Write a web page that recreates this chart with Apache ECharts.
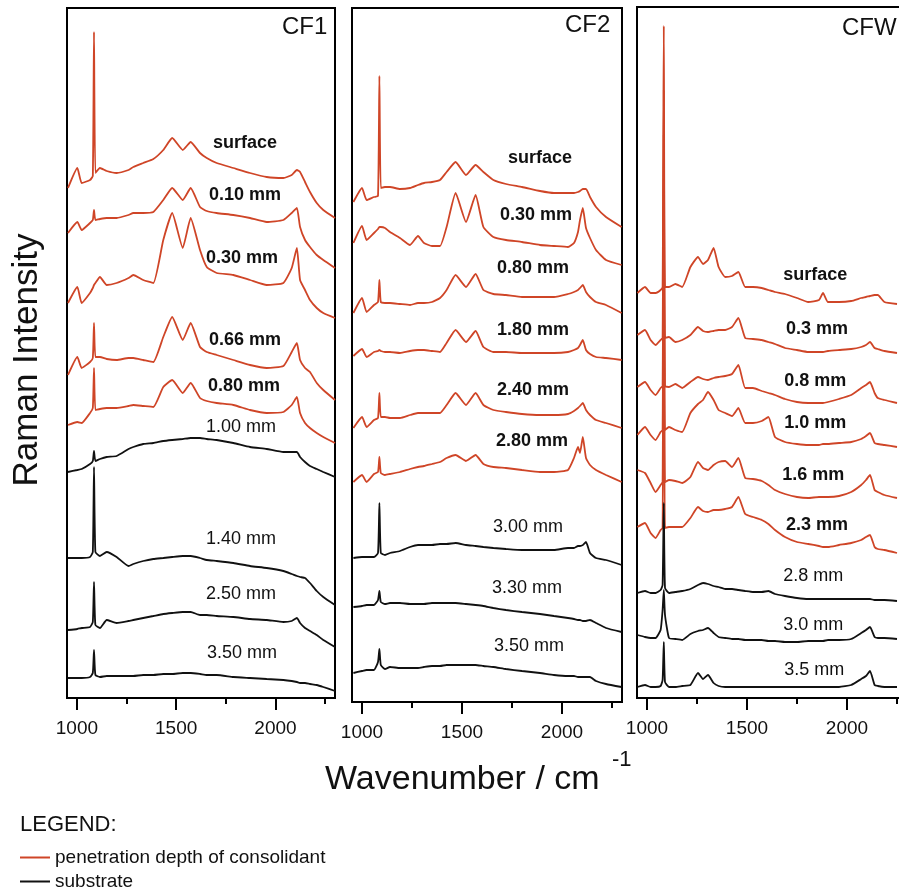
<!DOCTYPE html>
<html lang="en">
<head>
    <meta charset="UTF-8">
    <title>Raman depth profiles</title>
    <script src="https://cdn.jsdelivr.net/npm/echarts@6/dist/echarts.min.js"></script>
    <style>
        html, body { margin: 0; padding: 0; background: #fff; }
    </style>
</head>
<body>
    <div id="main" style="width: 899px;height:894px;"></div>
    <script type="text/javascript">
        // wavenumber grids (cm-1), one per panel
        var wnCF1 = [955, 1002, 1024, 1066, 1080, 1086, 1093, 1116, 1150, 1200, 1260, 1284, 1334, 1385, 1435, 1480, 1533, 1573, 1620, 1654, 1704, 1788, 1872, 1956, 2040, 2082, 2108, 2124, 2149, 2174, 2208, 2241, 2300];
        var wnCF2 = [957, 1000, 1023, 1060, 1080, 1087, 1094, 1115, 1140, 1190, 1240, 1280, 1310, 1350, 1390, 1423, 1468, 1520, 1568, 1607, 1657, 1720, 1800, 1890, 1960, 2030, 2060, 2080, 2090, 2104, 2120, 2140, 2170, 2220, 2298];
        var wnCFW = [952, 990, 1018, 1043, 1068, 1078, 1084, 1090, 1110, 1142, 1176, 1217, 1255, 1280, 1305, 1333, 1358, 1391, 1425, 1457, 1491, 1530, 1574, 1607, 1640, 1690, 1750, 1806, 1860, 1880, 1905, 1960, 2021, 2071, 2095, 2115, 2138, 2154, 2187, 2250];

        // CF1 spectra (stacked intensity, a.u.)
        var cf1Surface = [510, 530, 515, 518, 522, 666, 525, 530, 527, 525, 528, 531, 535, 539, 548, 560, 548, 556, 545, 540, 535, 530, 525, 521, 520, 523, 528, 526, 516, 506, 495, 488, 480];
        var cf1D010 = [465, 476, 468, 475, 478, 488, 478, 479, 480, 480, 483, 485, 485, 486, 498, 510, 498, 510, 491, 487, 485, 483, 480, 476, 478, 485, 490, 471, 458, 451, 443, 438, 430];
        var cf1D030 = [395, 411, 395, 405, 410, 413, 415, 421, 413, 415, 420, 423, 418, 415, 458, 485, 450, 480, 448, 431, 425, 423, 418, 413, 415, 430, 450, 418, 408, 398, 390, 385, 380];
        var cf1D066 = [323, 341, 330, 336, 340, 375, 341, 341, 339, 338, 340, 340, 338, 336, 361, 381, 358, 375, 351, 346, 343, 338, 333, 330, 332, 346, 355, 338, 330, 326, 315, 308, 298];
        var cf1D080 = [273, 276, 275, 285, 290, 330, 288, 289, 290, 290, 292, 293, 292, 291, 311, 318, 305, 315, 300, 297, 295, 293, 288, 285, 286, 293, 301, 285, 275, 270, 265, 261, 255];
        var cf1D100 = [226, 228, 229, 234, 237, 247, 237, 239, 241, 242, 249, 251, 254, 255, 257, 258, 259, 260, 260, 259, 258, 255, 251, 249, 246, 246, 246, 241, 236, 232, 229, 226, 221];
        var cf1D140 = [140, 140, 140, 141, 146, 231, 146, 142, 146, 141, 132, 134, 137, 139, 140, 141, 142, 142, 140, 138, 137, 135, 132, 130, 127, 124, 122, 121, 120, 115, 107, 101, 93];
        var cf1D250 = [68, 69, 70, 71, 76, 116, 73, 70, 78, 75, 77, 78, 80, 82, 84, 85, 86, 86, 83, 83, 82, 81, 79, 78, 76, 77, 80, 75, 70, 67, 63, 58, 51];
        var cf1D350 = [20, 20, 20, 21, 25, 48, 23, 21, 22, 22, 22, 22, 23, 23, 24, 24, 25, 25, 24, 23, 23, 21, 20, 19, 18, 17, 16, 15, 15, 14, 13, 11, 7];

        // CF2 spectra
        var cf2Surface = [500, 514, 502, 505, 506, 626, 514, 515, 515, 513, 514, 517, 519, 520, 522, 530, 540, 527, 537, 530, 522, 518, 515, 511, 509, 509, 509, 510, 511, 513, 513, 505, 495, 485, 475];
        var cf2D030 = [459, 476, 462, 469, 473, 475, 475, 474, 470, 464, 457, 466, 459, 456, 456, 475, 509, 480, 507, 475, 465, 462, 460, 457, 456, 455, 459, 470, 482, 494, 474, 464, 452, 442, 437];
        var cf2D080 = [389, 404, 390, 397, 400, 422, 400, 399, 399, 398, 397, 399, 399, 400, 404, 412, 427, 415, 428, 412, 408, 407, 405, 405, 405, 408, 410, 412, 414, 417, 410, 405, 400, 397, 389];
        var cf2D180 = [346, 353, 345, 350, 351, 352, 351, 350, 350, 349, 351, 352, 352, 351, 350, 359, 372, 360, 371, 355, 350, 350, 349, 349, 349, 350, 352, 354, 357, 362, 352, 348, 345, 344, 342];
        var cf2D240 = [274, 285, 275, 282, 284, 309, 285, 285, 284, 284, 287, 289, 289, 289, 289, 297, 309, 297, 309, 297, 292, 290, 288, 287, 287, 288, 291, 294, 296, 299, 292, 287, 282, 279, 274];
        var cf2D280 = [220, 227, 220, 228, 230, 245, 229, 227, 228, 230, 233, 235, 236, 238, 240, 244, 247, 241, 247, 238, 235, 234, 232, 230, 230, 232, 244, 255, 249, 265, 244, 237, 232, 227, 220];
        var cf2D300 = [144, 145, 145, 145, 149, 199, 149, 147, 149, 151, 155, 157, 157, 157, 158, 158, 159, 157, 156, 155, 154, 153, 152, 152, 152, 154, 154, 156, 156, 157, 160, 149, 144, 142, 137];
        var cf2D330 = [95, 96, 97, 97, 102, 111, 100, 98, 99, 99, 98, 98, 98, 99, 99, 99, 99, 98, 97, 96, 94, 92, 90, 88, 86, 84, 83, 82, 82, 81, 81, 82, 79, 74, 70];
        var cf2D350 = [29, 31, 32, 32, 40, 53, 37, 33, 35, 34, 34, 34, 35, 36, 36, 37, 37, 37, 37, 36, 35, 33, 31, 29, 27, 26, 26, 25, 25, 25, 25, 25, 21, 18, 15];

        // CFW spectra
        var cfwSurface = [405, 411, 405, 405, 408, 411, 672, 411, 411, 414, 411, 431, 441, 434, 438, 450, 431, 421, 422, 426, 411, 411, 410, 408, 406, 404, 400, 396, 398, 405, 396, 396, 397, 400, 401, 402, 403, 403, 396, 394];
        var cfwD03 = [363, 368, 358, 353, 358, 360, 608, 360, 361, 356, 358, 363, 371, 367, 366, 367, 368, 368, 371, 380, 360, 359, 358, 356, 354, 350, 348, 346, 346, 346, 347, 348, 349, 351, 353, 356, 350, 349, 347, 345];
        var cfwD08 = [311, 316, 308, 303, 310, 312, 563, 312, 311, 314, 310, 316, 321, 319, 318, 320, 321, 322, 324, 333, 310, 310, 307, 305, 303, 299, 296, 295, 295, 295, 296, 299, 303, 310, 313, 316, 305, 300, 298, 295];
        var cfwD10 = [263, 271, 263, 258, 266, 268, 518, 268, 271, 268, 266, 285, 294, 298, 306, 298, 288, 285, 282, 290, 275, 275, 277, 281, 261, 256, 254, 253, 253, 254, 254, 255, 256, 259, 262, 265, 255, 254, 253, 251];
        var cfwD16 = [228, 225, 215, 206, 213, 216, 468, 216, 218, 217, 215, 221, 236, 230, 228, 233, 236, 237, 231, 240, 220, 219, 217, 213, 208, 204, 201, 200, 201, 201, 201, 202, 206, 213, 218, 223, 208, 206, 203, 200];
        var cfwD23 = [171, 175, 165, 160, 168, 170, 418, 170, 171, 171, 171, 180, 191, 187, 186, 188, 188, 189, 191, 201, 184, 181, 178, 174, 168, 161, 156, 154, 152, 151, 151, 153, 155, 158, 161, 163, 151, 149, 148, 145];
        var cfwD28 = [105, 107, 105, 105, 108, 113, 195, 110, 105, 106, 107, 109, 113, 115, 114, 112, 111, 109, 109, 108, 107, 106, 106, 107, 104, 102, 100, 99, 99, 99, 99, 99, 99, 99, 99, 99, 98, 98, 98, 97];
        var cfwD30 = [63, 61, 60, 60, 68, 88, 108, 83, 60, 59, 58, 64, 67, 68, 70, 65, 61, 60, 59, 59, 58, 58, 58, 57, 57, 56, 56, 57, 57, 57, 58, 58, 59, 65, 68, 71, 61, 60, 60, 59];
        var cfwD35 = [11, 13, 11, 11, 12, 18, 56, 16, 11, 11, 12, 13, 25, 19, 23, 15, 12, 11, 11, 11, 11, 11, 11, 11, 11, 11, 11, 11, 11, 11, 11, 11, 13, 19, 22, 27, 13, 12, 11, 11];

        var majorTicks = [1000, 1500, 2000];
        var minorTicks = [1250, 1750, 2250];
        var panelNames = ['CF1', 'CF2', 'CFW'];
        var consolidant = 'penetration depth of consolidant';
        var substrate = 'substrate';

        // spectrum text: [label, wavenumber, intensity, bold]
        var labelsCF1 = [['surface', 1847, 555, 1], ['0.10 mm', 1847, 503, 1], ['0.30 mm', 1832, 440, 1], ['0.66 mm', 1847, 358, 1], ['0.80 mm', 1842, 312, 1],
            ['1.00 mm', 1827, 271, 0], ['1.40 mm', 1827, 159, 0], ['2.50 mm', 1827, 104, 0], ['3.50 mm', 1832, 45, 0]];
        var labelsCF2 = [['surface', 1890, 544, 1], ['0.30 mm', 1870, 487, 1], ['0.80 mm', 1855, 434, 1], ['1.80 mm', 1855, 372, 1], ['2.40 mm', 1855, 312, 1],
            ['2.80 mm', 1850, 261, 1], ['3.00 mm', 1830, 175, 0], ['3.30 mm', 1825, 114, 0], ['3.50 mm', 1835, 56, 0]];
        var labelsCFW = [['surface', 1841, 423, 1], ['0.3 mm', 1850, 369, 1], ['0.8 mm', 1841, 317, 1], ['1.0 mm', 1841, 275, 1], ['1.6 mm', 1831, 223, 1],
            ['2.3 mm', 1850, 173, 1], ['2.8 mm', 1831, 122, 0], ['3.0 mm', 1831, 73, 0], ['3.5 mm', 1836, 28, 0]];

        var FONT = '"Liberation Sans", Arial, Helvetica, sans-serif';
        var RED = '#cf4527';
        var BLACK = '#111111';

        var grids = [
            { left: 67, top: 8, width: 268, height: 690 },
            { left: 352, top: 8, width: 270, height: 694 },
            { left: 637, top: 7, width: 270, height: 691 }
        ];

        function pairs(xs, ys) {
            return xs.map(function (x, i) { return [x, ys[i]]; });
        }

        function spectrum(name, xs, ys, panel) {
            var red = name === consolidant;
            return {
                name: name,
                type: 'line',
                xAxisIndex: panel,
                yAxisIndex: panel,
                data: pairs(xs, ys),
                showSymbol: false,
                silent: true,
                smooth: 0.15,
                color: red ? RED : BLACK,
                lineStyle: { width: 1.8, color: red ? RED : BLACK },
                z: red ? 2 : 3
            };
        }

        var series = [
            spectrum(consolidant, wnCF1, cf1Surface, 0),
            spectrum(consolidant, wnCF1, cf1D010, 0),
            spectrum(consolidant, wnCF1, cf1D030, 0),
            spectrum(consolidant, wnCF1, cf1D066, 0),
            spectrum(consolidant, wnCF1, cf1D080, 0),
            spectrum(substrate, wnCF1, cf1D100, 0),
            spectrum(substrate, wnCF1, cf1D140, 0),
            spectrum(substrate, wnCF1, cf1D250, 0),
            spectrum(substrate, wnCF1, cf1D350, 0),

            spectrum(consolidant, wnCF2, cf2Surface, 1),
            spectrum(consolidant, wnCF2, cf2D030, 1),
            spectrum(consolidant, wnCF2, cf2D080, 1),
            spectrum(consolidant, wnCF2, cf2D180, 1),
            spectrum(consolidant, wnCF2, cf2D240, 1),
            spectrum(consolidant, wnCF2, cf2D280, 1),
            spectrum(substrate, wnCF2, cf2D300, 1),
            spectrum(substrate, wnCF2, cf2D330, 1),
            spectrum(substrate, wnCF2, cf2D350, 1),

            spectrum(consolidant, wnCFW, cfwSurface, 2),
            spectrum(consolidant, wnCFW, cfwD03, 2),
            spectrum(consolidant, wnCFW, cfwD08, 2),
            spectrum(consolidant, wnCFW, cfwD10, 2),
            spectrum(consolidant, wnCFW, cfwD16, 2),
            spectrum(consolidant, wnCFW, cfwD23, 2),
            spectrum(substrate, wnCFW, cfwD28, 2),
            spectrum(substrate, wnCFW, cfwD30, 2),
            spectrum(substrate, wnCFW, cfwD35, 2)
        ];

        var xAxes = [];
        var yAxes = [];
        grids.forEach(function (g, i) {
            xAxes.push({
                type: 'value', gridIndex: i, min: 950, max: 2300, position: 'bottom',
                axisLine: { show: true, lineStyle: { color: '#000', width: 2 } },
                axisTick: { show: true, customValues: majorTicks, length: 12, lineStyle: { color: '#000', width: 2 } },
                axisLabel: {
                    customValues: majorTicks, margin: 21, fontSize: 19, color: '#111', fontFamily: FONT,
                    formatter: function (v) { return String(v); }
                },
                splitLine: { show: false }
            });
            yAxes.push({ type: 'value', gridIndex: i, min: 0, max: g.height, show: false });
        });
        grids.forEach(function (g, i) {
            xAxes.push({
                type: 'value', gridIndex: i, min: 950, max: 2300, position: 'bottom',
                axisLine: { show: false },
                axisTick: { show: true, customValues: minorTicks, length: 6, lineStyle: { color: '#000', width: 2 } },
                axisLabel: { show: false },
                splitLine: { show: false }
            });
        });

        var myChart = echarts.init(document.getElementById('main'), null, { renderer: 'canvas' });

        var option = {
            animation: false,
            backgroundColor: '#ffffff',
            grid: grids.map(function (g) {
                return {
                    left: g.left, top: g.top, width: g.width, height: g.height,
                    outerBoundsMode: 'none', containLabel: false,
                    show: true, borderColor: '#000', borderWidth: 2, backgroundColor: 'transparent'
                };
            }),
            xAxis: xAxes,
            yAxis: yAxes,
            legend: {
                orient: 'vertical', left: 20, top: 848, padding: 0,
                itemWidth: 30, itemHeight: 2, itemGap: 5, icon: 'rect',
                selectedMode: false,
                textStyle: { fontSize: 19, color: '#111', fontFamily: FONT },
                data: [consolidant, substrate]
            },
            series: series
        };
        myChart.setOption(option);

        // texts: panel names, depth labels, axis titles
        var graphics = [];
        var namePos = [[282, 27], [565, 25], [842, 28]];
        panelNames.forEach(function (n, i) {
            graphics.push({ type: 'text', x: namePos[i][0], y: namePos[i][1], style: { text: n, fontSize: 24, fontFamily: FONT, fill: '#111', textVerticalAlign: 'middle' } });
        });
        [labelsCF1, labelsCF2, labelsCFW].forEach(function (list, i) {
            list.forEach(function (l) {
                var p = myChart.convertToPixel({ xAxisIndex: i, yAxisIndex: i }, [l[1], l[2]]);
                graphics.push({
                    type: 'text', x: p[0], y: p[1],
                    style: { text: l[0], fontSize: 18, fontWeight: l[3] ? 'bold' : 'normal', fontFamily: FONT, fill: '#111', textAlign: 'center', textVerticalAlign: 'middle' }
                });
            });
        });
        graphics.push({ type: 'text', x: 27, y: 360, rotation: Math.PI / 2, style: { text: 'Raman Intensity', fontSize: 35, fontFamily: FONT, fill: '#111', textAlign: 'center', textVerticalAlign: 'middle' } });
        graphics.push({ type: 'text', x: 325, y: 780, style: { text: 'Wavenumber / cm', fontSize: 34, fontFamily: FONT, fill: '#111', textVerticalAlign: 'middle' } });
        graphics.push({ type: 'text', x: 612, y: 760, style: { text: '-1', fontSize: 22, fontFamily: FONT, fill: '#111', textVerticalAlign: 'middle' } });
        graphics.push({ type: 'text', x: 20, y: 825, style: { text: 'LEGEND:', fontSize: 22, fontFamily: FONT, fill: '#111', textVerticalAlign: 'middle' } });

        myChart.setOption({ graphic: graphics });
    </script>
</body>
</html>
